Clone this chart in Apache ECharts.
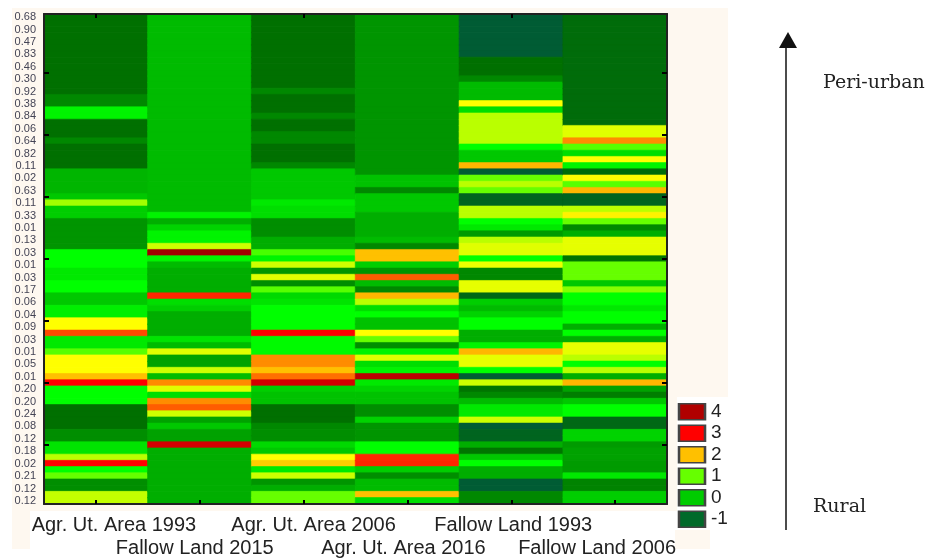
<!DOCTYPE html>
<html>
<head>
<meta charset="utf-8">
<style>html,body{margin:0;padding:0;background:#fff}#chart{width:930px;height:560px}</style>
<script src="https://cdn.jsdelivr.net/npm/echarts@6/dist/echarts.min.js"></script>
</head>
<body>
<div id="chart"></div>
<script>
// column names, left to right
var columns = ['Agr. Ut. Area 1993', 'Fallow Land 2015', 'Agr. Ut. Area 2006', 'Agr. Ut. Area 2016', 'Fallow Land 1993', 'Fallow Land 2006'];

// tick labels, printed on every second row from the top
var tickLabels = ['0.68', '0.90', '0.47', '0.83', '0.46', '0.30', '0.92', '0.38', '0.84', '0.06',
  '0.64', '0.82', '0.11', '0.02', '0.63', '0.11', '0.33', '0.01', '0.13', '0.03',
  '0.01', '0.03', '0.17', '0.06', '0.04', '0.09', '0.03', '0.01', '0.05', '0.01',
  '0.20', '0.20', '0.24', '0.08', '0.12', '0.18', '0.02', '0.21', '0.12', '0.12'];

// values by row (10 per line)
var agrUt1993 = [-.75, -.75, -.75, -.75, -.75, -.75, -.75, -.75, -.75, -.75,
  -.75, -.75, -.75, -.5, -.5, .4, .4, -.75, -.75, -.75,
  -.5, -.75, -.75, -.75, -.75, -.15, -.15, -.15, -.15, 0,
  1.2, .05, .05, -.4, -.4, -.4, -.4, -.4, .5, .5,
  .5, .3, .3, .5, .5, 0, 0, .35, .35, 1.75,
  1.75, 2.6, .3, .3, .9, 1.75, 1.75, 1.75, 2, 3,
  .5, .5, .5, -.75, -.75, -.75, -.75, -.45, -.45, .25,
  .25, 1.3, 3, .5, 1, -.45, -.45, 1.35, 1.35];
var fallow2015 = [-.1, -.1, -.1, -.1, -.1, -.1, -.1, -.1, -.1, -.1,
  -.1, -.1, -.1, -.1, -.1, -.1, -.1, -.1, -.1, -.1,
  -.1, -.1, -.1, -.1, -.1, -.1, -.1, -.1, -.1, -.1,
  -.1, -.1, .4, -.2, .1, .4, .4, 1.4, 4, .4,
  -.1, -.2, -.2, -.2, -.2, 2.8, .2, .05, -.2, -.2,
  -.2, -.2, .25, -.1, 1.5, -.3, -.3, 1.4, -.1, 2.25,
  1.5, .2, 2.25, 2.5, 1.4, -.3, 0, -.3, -.3, 3.4,
  -.2, -.2, -.2, -.2, -.2, -.2, -.2, -.2, -.2];
var agrUt2006 = [-.75, -.75, -.75, -.75, -.75, -.75, -.75, -.75, -.75, -.75,
  -.75, -.75, -.5, -.75, -.75, -.75, -.5, -.75, -.75, -.5,
  -.5, -.75, -.75, -.75, -.5, 0, 0, 0, 0, 0,
  .3, .2, .2, -.45, -.45, -.45, -.2, -.2, .8, .4,
  1.4, -.4, 1.5, -.45, .9, .15, .25, .5, .5, .5,
  .5, 3, .45, .45, .45, 2.25, 2.25, 2, 2.4, 3.4,
  .05, -.05, -.05, -.75, -.75, -.75, -.5, -.45, -.45, .15,
  0, 1.75, 1.95, .3, 1.4, -.4, -.2, 1, 1];
var agrUt2016 = [-.4, -.4, -.4, -.4, -.4, -.4, -.4, -.4, -.4, -.4,
  -.4, -.4, -.4, -.4, -.4, -.4, -.4, -.4, -.4, -.4,
  -.4, -.4, -.4, -.4, -.4, -.4, -.05, -.05, -.5, 0,
  0, 0, -.2, -.2, -.2, -.2, -.1, -.5, 2, 2,
  .05, -.4, 2.5, -.1, -.5, 2.05, 1.3, .2, .5, -.05,
  -.05, 1.75, 1, -.45, .4, 1.5, .2, .4, 3.7, .3,
  .1, -.05, -.05, -.45, -.45, .1, -.4, -.4, -.4, .5,
  .5, 2.8, 2.8, .05, -.45, -.1, -.1, 2, .2];
var fallow1993 = [-1, -1, -1, -1, -1, -1, -1, -.75, -.75, -.75,
  -.5, -.1, -.1, -.1, 1.75, .2, 1.3, 1.3, 1.3, 1.3,
  1.3, .5, 0, 0, 2.05, -1, 1, 1.3, 1, -.9,
  -.9, 1.3, 1.3, .5, .3, -.35, 1.3, 1.5, 1.5, .5,
  1.6, -.5, -.5, 1.55, 1.55, -.85, .05, -.1, .1, .5,
  .5, -.2, -.2, .4, 2.05, 1.55, 1.55, .5, -1, 1.4,
  -.7, -.5, -.1, .3, .3, 1.4, -1, -.9, -.9, -.2,
  -.7, 0, .5, -.2, -.2, -1, -1, -.5, -.5];
var fallow2006 = [-.8, -.8, -.8, -.8, -.8, -.8, -.8, -.8, -.8, -.8,
  -.8, -.8, -.8, -.8, -.8, -.8, -.8, -.8, 1.5, 1.5,
  2.25, .9, .2, 1.75, .4, -.8, 1.75, .9, 2.05, -.9,
  -.9, 1.3, 1.8, 1, -.5, -.2, 1.55, 1.55, 1.55, -.7,
  1, 1, 1, 0, 1.1, .5, .5, .3, .5, .5,
  -.2, .5, -.2, 1.55, 1.55, 1.3, .5, 1.3, -.2, 2.05,
  -.3, -.6, 0, .5, .5, -.85, -.85, .1, .1, -.35,
  -.3, -.3, -.35, -.35, .3, -.55, -.55, .05, .05];
var seriesValues = [agrUt1993, fallow2015, agrUt2006, agrUt2016, fallow1993, fallow2006];

// legend
var legendLevels = ['4', '3', '2', '1', '0', '-1'];
var legendColors = ['#b00000', '#ff0000', '#ffc000', '#66ff00', '#00cc00', '#006a2a'];

// colour scale, -1 to 4 in steps of a quarter
var ramp = ['#005c34', '#007000', '#008800', '#00a800', '#00c800', '#00e400', '#00ff00', '#40ff00', '#66ff00',
  '#b0ff00', '#e0ff00', '#ffff00', '#ffc000', '#ff8c00', '#ff5c00', '#ff3000', '#ff0000', '#e00000', '#c80000', '#b80000', '#a00000'];

var rowCats = [];
for (var r = 0; r < agrUt1993.length; r++) {
  rowCats.push(r % 2 === 0 ? tickLabels[r / 2] : '');
}

// a border in the cell's own colour closes the seams between fractional rows
var cells = [];
seriesValues.forEach(function (col, c) {
  col.forEach(function (v, r) {
    var shade = echarts.color.lerp((v + 1) / 5, ramp);
    cells.push({value: [c, r, v], itemStyle: {color: shade, borderColor: shade, borderWidth: 0.6}});
  });
});

// the two-line label row: [padLeft, padRight, padTop] per column
var labelPads = [[36, 0, 0], [0, 10, 23], [20, 0, 0], [0, 8, 23], [4, 0, 0], [0, 36, 23]];
var rich = {};
labelPads.forEach(function (p, i) {
  rich['c' + i] = {
    fontFamily: 'Liberation Sans', fontSize: 20, color: '#222',
    padding: [p[2], p[1], 0, p[0]]
  };
});

var frame = {lineStyle: {color: '#222', width: 2}};
var xTick = {show: true, inside: true, length: 4, alignWithLabel: true, lineStyle: {color: '#000', width: 2}};
var yTick = {show: true, inside: true, length: 5, alignWithLabel: true, interval: function (i) { return i % 10 === 9; }, lineStyle: {color: '#000', width: 2}};
var chart = echarts.init(document.getElementById('chart'));
chart.setOption({
  backgroundColor: '#fff',
  animation: false,
  grid: [
    {left: 44, top: 14, width: 623, height: 490},
    {left: 678, top: 401, width: 28, height: 129}
  ],
  xAxis: [
    {
      type: 'category', gridIndex: 0, data: columns, position: 'bottom', z: 5,
      axisLine: frame,
      axisTick: xTick,
      axisLabel: {
        interval: 0, margin: 11, hideOverlap: false, rich: rich,
        formatter: function (v, i) { return '{c' + i + '|' + v + '}'; }
      }
    },
    {
      type: 'category', gridIndex: 0, data: columns, position: 'top', z: 5,
      axisLine: frame,
      axisTick: xTick,
      axisLabel: {show: false}
    },
    {type: 'category', gridIndex: 1, data: ['key'], show: false}
  ],
  yAxis: [
    {
      type: 'category', gridIndex: 0, data: rowCats, inverse: true, position: 'left', z: 5,
      axisLine: frame,
      axisTick: yTick,
      axisLabel: {interval: 0, margin: 8, fontFamily: 'Liberation Sans', fontSize: 11, color: '#445', hideOverlap: false}
    },
    {
      type: 'category', gridIndex: 0, data: rowCats, inverse: true, position: 'right', z: 5,
      axisLine: frame,
      axisTick: yTick,
      axisLabel: {show: false}
    },
    {
      type: 'category', gridIndex: 1, data: legendLevels, inverse: true, position: 'right',
      axisLine: {show: false}, axisTick: {show: false},
      axisLabel: {interval: 0, margin: 5, fontFamily: 'Liberation Sans', fontSize: 19, color: '#222', hideOverlap: false}
    }
  ],
  series: [
    {
      type: 'heatmap', xAxisIndex: 0, yAxisIndex: 0, data: cells, progressive: 0,
      emphasis: {disabled: true}
    },
    {
      type: 'scatter', xAxisIndex: 2, yAxisIndex: 2, symbol: 'rect', symbolSize: [26, 16],
      data: legendLevels.map(function (lv, i) {
        return {value: ['key', lv], itemStyle: {color: legendColors[i], opacity: 1, borderColor: '#444', borderWidth: 2}};
      })
    }
  ],
  graphic: [
    // cream sheet behind the plot
    {type: 'rect', z: -1, shape: {x: 12, y: 8, width: 716, height: 389}, style: {fill: '#fef8f0'}},
    {type: 'rect', z: -1, shape: {x: 12, y: 397, width: 665, height: 114}, style: {fill: '#fef8f0'}},
    {type: 'rect', z: -1, shape: {x: 12, y: 511, width: 18, height: 38}, style: {fill: '#fef8f0'}},
    {type: 'rect', z: -1, shape: {x: 675, y: 530, width: 35, height: 19}, style: {fill: '#fef8f0'}},
    // rural to peri-urban arrow
    {type: 'line', shape: {x1: 786, y1: 530, x2: 786, y2: 46}, style: {stroke: '#111', lineWidth: 1.5}},
    {type: 'polygon', shape: {points: [[779, 48], [797, 48], [788, 32]]}, style: {fill: '#111'}},
    {type: 'text', x: 823, y: 83, style: {text: 'Peri-urban', fontFamily: 'DejaVu Serif', fontSize: 19, fill: '#222', verticalAlign: 'middle'}},
    {type: 'text', x: 813, y: 507, style: {text: 'Rural', fontFamily: 'DejaVu Serif', fontSize: 19, fill: '#222', verticalAlign: 'middle'}}
  ]
});
</script>
</body>
</html>
